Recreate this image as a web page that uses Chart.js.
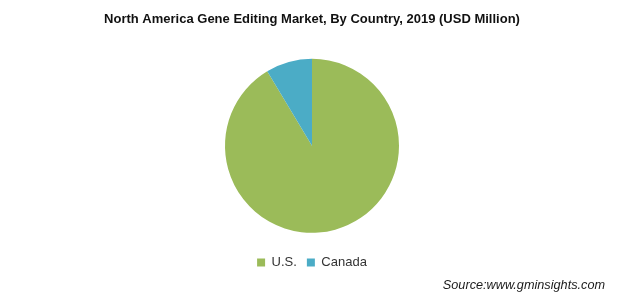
<!DOCTYPE html>
<html lang="en">
<head>
    <meta charset="UTF-8">
    <title>North America Gene Editing Market, By Country, 2019</title>
    <script src="https://cdn.jsdelivr.net/npm/chart.js"></script>
    <style>
        html, body {
            margin: 0;
            padding: 0;
            background: #ffffff;
        }
        .container {
            width: 626px;
            height: 307px;
            position: relative;
        }
    </style>
</head>
<body>

    <div class="container">
        <canvas id="pieChart"></canvas>
    </div>

    <script>
        // data
        const countries = ['U.S.', 'Canada'];
        const shares = [91.4, 8.6];
        const sliceColors = ['#9BBB59', '#4BACC6'];

        const titleText = 'North America Gene Editing Market, By Country, 2019 (USD Million)';
        const sourceText = 'Source:www.gminsights.com';

        // source note bottom right
        const sourcePlugin = {
            id: 'sourceNote',
            afterDraw(chart) {
                const ctx = chart.ctx;
                ctx.save();
                ctx.font = 'italic 12.7px "Liberation Sans", Arial, sans-serif';
                ctx.fillStyle = '#1a1a1a';
                ctx.textAlign = 'right';
                ctx.textBaseline = 'middle';
                ctx.fillText(sourceText, 605, 285);
                ctx.restore();
            }
        };

        new Chart(document.getElementById('pieChart'), {
            type: 'pie',
            data: {
                labels: countries,
                datasets: [{
                    data: shares,
                    backgroundColor: sliceColors,
                    borderWidth: 0,
                    radius: 87
                }]
            },
            options: {
                responsive: true,
                maintainAspectRatio: false,
                animation: false,
                layout: {
                    padding: { top: 0, bottom: 28, left: 0, right: 2 }
                },
                plugins: {
                    title: {
                        display: true,
                        text: titleText,
                        color: '#111111',
                        font: { family: '"Liberation Sans", Arial, sans-serif', size: 13, weight: 'bold' },
                        padding: { top: 12, bottom: 18 }
                    },
                    legend: {
                        position: 'bottom',
                        labels: {
                            color: '#333333',
                            boxWidth: 8,
                            boxHeight: 8,
                            padding: 10,
                            font: { family: '"Liberation Sans", Arial, sans-serif', size: 13 }
                        }
                    },
                    tooltip: { enabled: false }
                }
            },
            plugins: [sourcePlugin]
        });
    </script>

</body>
</html>
